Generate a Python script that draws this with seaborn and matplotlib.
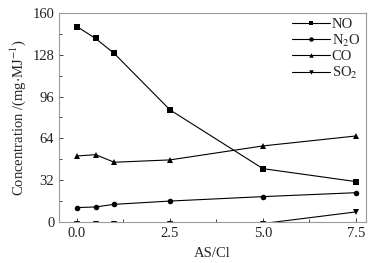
import matplotlib.pyplot as plt
import seaborn as sns
import pandas as pd
from matplotlib.ticker import MultipleLocator

sns.set_style("ticks")
plt.rcParams['font.family'] = ['Liberation Serif', 'DejaVu Serif']
plt.rcParams['mathtext.fontset'] = 'stix'

# data
as_cl = [0.0, 0.5, 1.0, 2.5, 5.0, 7.5]
no = [149.5, 140.4, 129.0, 85.8, 40.8, 30.9]
n2o = [11.0, 11.5, 13.5, 16.0, 19.4, 22.4]
co = [50.5, 51.5, 45.7, 47.5, 58.2, 65.8]
so2 = [-1.2, -1.2, -1.2, -1.2, -1.2, 7.7]

series = {'NO': (no, 's'), 'N$_2$O': (n2o, 'o'), 'CO': (co, '^'), 'SO$_2$': (so2, 'v')}

fig = plt.figure(figsize=(3.84, 2.63), dpi=100)
ax = fig.add_axes([0.154, 0.156, 0.799, 0.795])

for name, (vals, mk) in series.items():
    df = pd.DataFrame({'x': as_cl, 'y': vals})
    sns.lineplot(data=df, x='x', y='y', ax=ax, color='black', marker=mk,
                 markersize=4, linewidth=0.8, markeredgewidth=0, label=name)

ax.set_xlim(-0.48, 7.77)
ax.set_ylim(0, 160)
ax.set_xticks([0, 2.5, 5.0, 7.5])
ax.set_xticklabels(['0.0', '2.5', '5.0', '7.5'])
ax.xaxis.set_minor_locator(MultipleLocator(1.25))
ax.set_yticks([0, 32, 64, 96, 128, 160])
ax.yaxis.set_minor_locator(MultipleLocator(16))
ax.tick_params(direction='in', labelsize=10.5, length=3, width=0.6, colors='#222222')
ax.tick_params(which='minor', direction='in', length=2, width=0.6)
for s in ax.spines.values():
    s.set_linewidth(0.8)
    s.set_color('#999999')

ax.set_xlabel('AS/Cl', fontsize=10.5, labelpad=5)
ax.set_ylabel('Concentration /(mg$\\cdot$MJ$^{-1}$)', fontsize=10.5, labelpad=3)

ax.legend(loc='upper right', bbox_to_anchor=(1.015, 1.025), frameon=False,
          fontsize=10.5, handlelength=2.6, handletextpad=0.1, labelspacing=0.1,
          borderaxespad=0.3, markerscale=0.8)

fig.savefig('out.png', dpi=100)
